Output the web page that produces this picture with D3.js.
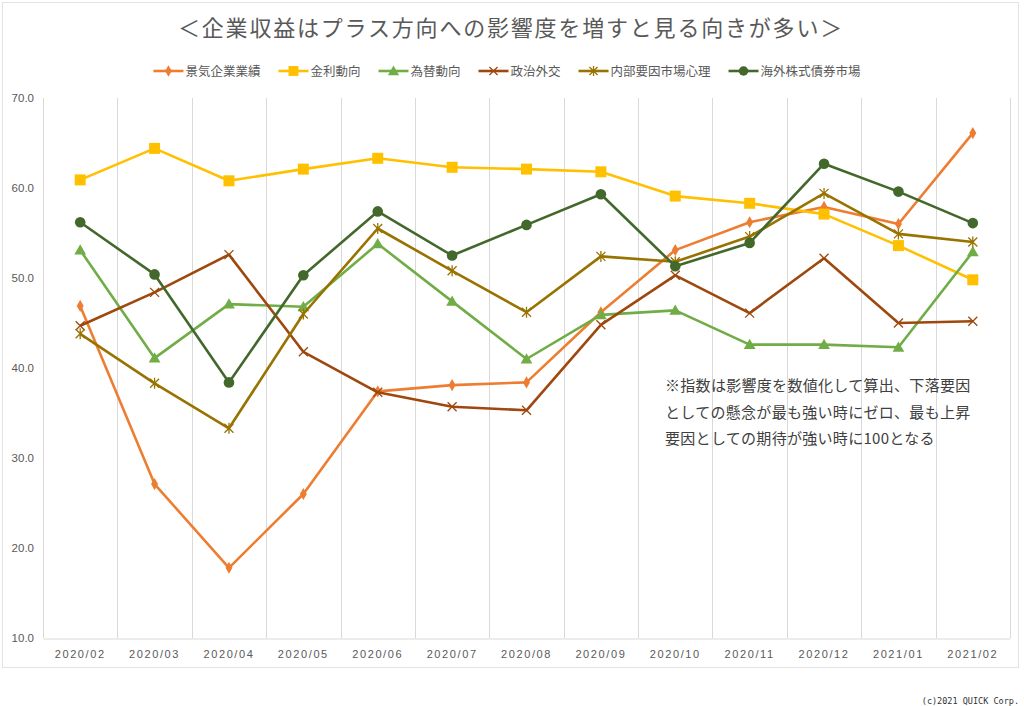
<!DOCTYPE html>
<html><head><meta charset="utf-8">
<script src="https://cdn.jsdelivr.net/npm/d3@7"></script>
<style>
html,body{margin:0;padding:0;background:#fff;}
svg{display:block;}
</style></head>
<body>
<svg id="c" width="1024" height="706"></svg>
<script>
const categories = ["2020/02","2020/03","2020/04","2020/05","2020/06","2020/07","2020/08","2020/09","2020/10","2020/11","2020/12","2021/01","2021/02"];
const seriesNames = ["景気企業業績","金利動向","為替動向","政治外交","内部要因市場心理","海外株式債券市場"];
const gyoseki   = [46.9,27.1,17.8,26.0,37.4,38.1,38.4,46.2,53.1,56.2,57.9,56.0,66.1];
const kinri     = [60.9,64.4,60.8,62.1,63.3,62.3,62.1,61.8,59.1,58.3,57.1,53.6,49.8];
const kawase    = [53.1,41.1,47.1,46.8,53.8,47.4,41.0,45.9,46.4,42.6,42.6,42.3,52.9];
const seiji     = [44.7,48.4,52.6,41.8,37.3,35.7,35.3,44.8,50.3,46.1,52.2,45.0,45.2];
const naibu     = [43.8,38.3,33.3,46.0,55.5,50.8,46.2,52.4,51.8,54.6,59.4,54.9,54.0];
const kaigai    = [56.2,50.4,38.4,50.3,57.4,52.5,55.9,59.3,51.3,53.9,62.7,59.6,56.1];
const yTicks = [10,20,30,40,50,60,70];
const title = "＜企業収益はプラス方向への影響度を増すと見る向きが多い＞";
const noteLines = ["※指数は影響度を数値化して算出、下落要因","としての懸念が最も強い時にゼロ、最も上昇","要因としての期待が強い時に100となる"];
const credit = "(c)2021 QUICK Corp.";

const colors = ["#ED7D31","#FFC000","#70AD47","#9E480E","#997300","#43682B"];
const markers = ["diamond","square","triangle","x","asterisk","circle"];
const values = [gyoseki,kinri,kawase,seiji,naibu,kaigai];

const svg = d3.select("#c");
const JP = "'Noto Sans CJK JP','Noto Sans',sans-serif";
const NUM = "'Liberation Sans','DejaVu Sans',sans-serif";

// outer border
svg.append("rect").attr("x",2.5).attr("y",2.5).attr("width",1016).attr("height",665)
  .attr("fill","#fff").attr("stroke","#e3e3e3").attr("stroke-width",1);

const x = d3.scaleBand().domain(categories).range([43,1010]);
const y = d3.scaleLinear().domain([10,70]).range([638,98]);

// vertical gridlines at category boundaries
const edges = categories.map(c=>x(c)).concat([x.range()[1]]);
svg.append("g").selectAll("line").data(edges).join("line")
  .attr("x1",d=>Math.round(d)+0.5).attr("x2",d=>Math.round(d)+0.5)
  .attr("y1",y(70)).attr("y2",y(10))
  .attr("stroke","#d9d9d9").attr("stroke-width",1);

// x axis
const xa = svg.append("g").attr("transform",`translate(0,${y(10)+0.5})`)
  .call(d3.axisBottom(x).tickSize(0).tickPadding(12));
xa.select(".domain").attr("stroke","#d9d9d9");
xa.selectAll("text").attr("font-family",NUM).attr("font-size",11).attr("fill","#595959")
  .attr("letter-spacing","1.6px");

// y axis
const ya = svg.append("g").attr("transform","translate(34,0)")
  .call(d3.axisLeft(y).tickValues(yTicks).tickSize(0).tickPadding(0).tickFormat(d3.format(".1f")));
ya.select(".domain").remove();
ya.selectAll("text").attr("font-family",NUM).attr("font-size",11.5).attr("fill","#595959");

// marker drawer
function drawMarker(g, type, color, cx, cy, legend){
  const s = legend ? 0.9 : 1;
  if(type==="diamond"){
    g.append("path").attr("d",d3.symbol(d3.symbolDiamond, 42*s)()).attr("transform",`translate(${cx},${cy})`).attr("fill",color);
  } else if(type==="square"){
    g.append("rect").attr("x",cx-5.5*s).attr("y",cy-5.5*s).attr("width",11*s).attr("height",11*s).attr("fill",color);
  } else if(type==="triangle"){
    g.append("path").attr("d",d3.symbol(d3.symbolTriangle, 60*s)()).attr("transform",`translate(${cx},${cy+1})`).attr("fill",color);
  } else if(type==="circle"){
    g.append("circle").attr("cx",cx).attr("cy",cy).attr("r",5.3*s).attr("fill",color);
  } else if(type==="x"){
    const r=4.5*s;
    g.append("path").attr("d",`M${cx-r},${cy-r}L${cx+r},${cy+r}M${cx-r},${cy+r}L${cx+r},${cy-r}`)
      .attr("stroke",color).attr("stroke-width",1.3).attr("fill","none");
  } else if(type==="asterisk"){
    const r=4.5*s;
    g.append("path").attr("d",`M${cx-r},${cy-r}L${cx+r},${cy+r}M${cx-r},${cy+r}L${cx+r},${cy-r}M${cx},${cy-r-1}L${cx},${cy+r+1}`)
      .attr("stroke",color).attr("stroke-width",1.3).attr("fill","none");
  }
}

const line = d3.line().x((d,i)=>x(categories[i])+x.bandwidth()/2).y(d=>y(d));
values.forEach((vals,k)=>{
  const g = svg.append("g");
  g.append("path").datum(vals).attr("d",line).attr("fill","none")
    .attr("stroke",colors[k]).attr("stroke-width",2.6).attr("stroke-linejoin","round");
  vals.forEach((v,i)=>drawMarker(g,markers[k],colors[k],x(categories[i])+x.bandwidth()/2,y(v),false));
});

// title
svg.append("text").attr("x",511).attr("y",36).attr("text-anchor","middle")
  .attr("font-family",JP).attr("font-size",22).attr("letter-spacing","1.8px")
  .attr("fill","#595959").text(title);

// legend
const lg = svg.append("g");
const items = seriesNames.map((n,k)=>{
  const g = lg.append("g");
  g.append("line").attr("x1",0).attr("x2",30).attr("y1",0).attr("y2",0).attr("stroke",colors[k]).attr("stroke-width",2.6);
  drawMarker(g,markers[k],colors[k],15,0,true);
  const t = g.append("text").attr("x",32).attr("y",4.5).attr("font-family",JP).attr("font-size",12.5)
    .attr("fill","#595959").text(n);
  return {g, w: 32 + t.node().getComputedTextLength()};
});
const gap = 18;
const total = d3.sum(items,d=>d.w) + gap*(items.length-1);
let cx = 507 - total/2;
items.forEach(it=>{ it.g.attr("transform",`translate(${cx},71)`); cx += it.w + gap; });

// note
svg.append("g").selectAll("text").data(noteLines).join("text")
  .attr("x",665).attr("y",(d,i)=>391+i*26.5)
  .attr("font-family",JP).attr("font-size",15).attr("letter-spacing","0.3px")
  .attr("fill","#404040").text(d=>d);

// credit
svg.append("text").attr("x",1019).attr("y",704).attr("text-anchor","end")
  .attr("font-family","'DejaVu Sans Mono','Liberation Mono',monospace").attr("font-size",8.5)
  .attr("fill","#333").text(credit);
</script>
</body></html>
